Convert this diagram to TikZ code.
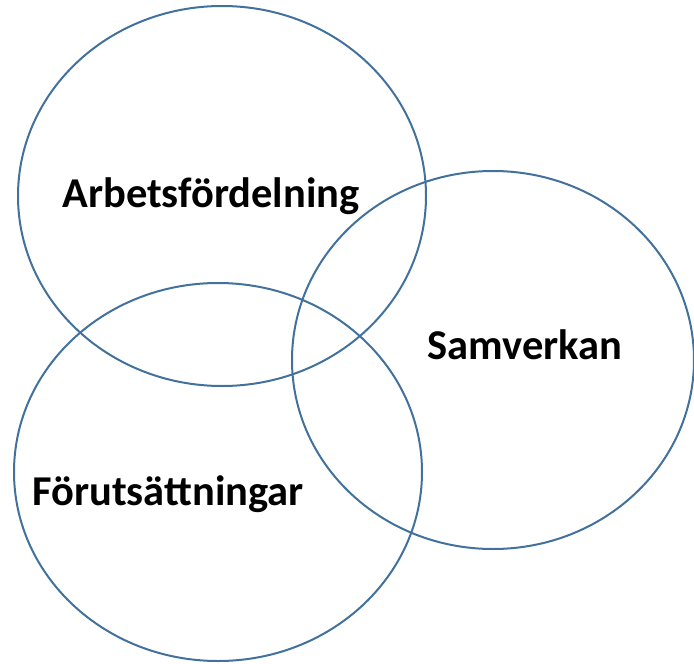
\documentclass[tikz,border=0pt]{standalone}
\usepackage{fontspec}
\setmainfont{Carlito}
\definecolor{ring}{HTML}{41719C}
\begin{document}
\begin{tikzpicture}[x=1pt,y=-1pt,
  ring/.style={draw=ring,line width=2pt},
  lbl/.style={font=\fontsize{42.5}{48}\selectfont\bfseries,inner sep=0pt}]
\useasboundingbox (0,0) rectangle (694,664);
\draw[ring] (222,196) ellipse [x radius=204, y radius=190];
\draw[ring] (493,360) ellipse [x radius=201, y radius=189];
\draw[ring] (218,472) ellipse [x radius=204, y radius=189];
\node[lbl,anchor=base] (a) at (211,207) {Arbetsfördelning};
\node[lbl,anchor=base] (s) at (525,359) {Samverkan};
\node[lbl,anchor=base] (f) at (168,505) {Förutsättningar};
\end{tikzpicture}
\end{document}
